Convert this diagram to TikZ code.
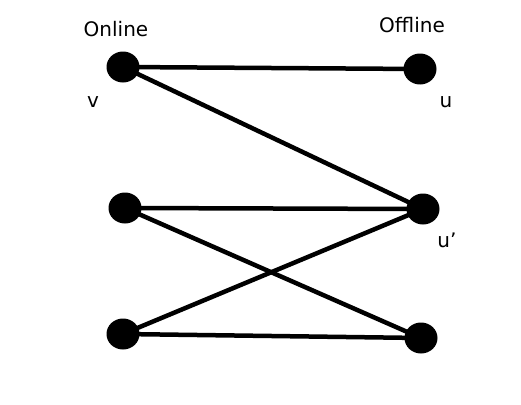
\documentclass[tikz,border=0pt]{standalone}
\usepackage{fontspec}
\defaultfontfeatures{}
\setmainfont{DejaVu Sans}
\usepackage{tikz}
\usetikzlibrary{positioning}
\tikzset{vertex/.style={ellipse, fill=black, inner sep=0pt, minimum width=33pt, minimum height=31pt}, edge/.style={line width=4.5pt, draw=black}, lbl/.style={font=\fontsize{20}{24}\selectfont, inner sep=0pt}}
\usetikzlibrary{shapes.geometric}

\begin{document}
\begin{tikzpicture}[x=1pt, y=-1pt]
\useasboundingbox (0,0) rectangle (521,404);
% online side
\node[vertex] (v) at (123,67) {};
\node[vertex] (a) at (125,208) {};
\node[vertex] (b) at (123,334) {};
% offline side
\node[vertex] (u) at (420,69) {};
\node[vertex] (w) at (423,209) {};
\node[vertex] (c) at (421,338) {};
\draw[edge] (v.center) -- (u.center);
\draw[edge] (v.center) -- (w.center);
\draw[edge] (a.center) -- (w.center);
\draw[edge] (a.center) -- (c.center);
\draw[edge] (b.center) -- (w.center);
\draw[edge] (b.center) -- (c.center);
\node[lbl] (online) at (116,29) {Online};
\node[lbl] (offline) at (412,25) {Offline};
\node[lbl] (vlbl) at (93,102) {v};
\node[lbl] (ulbl) at (446,102) {u};
\node[lbl] (wlbl) at (447,240) {u'};
\end{tikzpicture}
\end{document}
